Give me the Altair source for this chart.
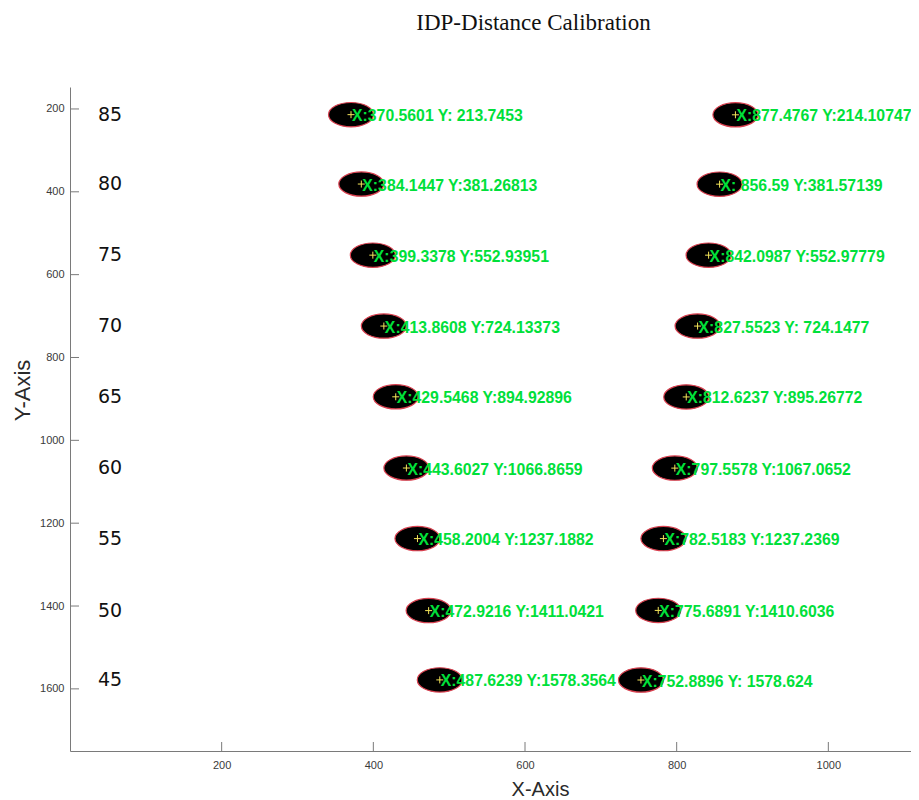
import altair as alt
import pandas as pd

distances = [85, 80, 75, 70, 65, 60, 55, 50, 45]
left_x = [370.5601, 384.1447, 399.3378, 413.8608, 429.5468, 443.6027, 458.2004, 472.9216, 487.6239]
left_y = [213.7453, 381.26813, 552.93951, 724.13373, 894.92896, 1066.8659, 1237.1882, 1411.0421, 1578.3564]
right_x = [877.4767, 856.59, 842.0987, 827.5523, 812.6237, 797.5578, 782.5183, 775.6891, 752.8896]
right_y = [214.10747, 381.57139, 552.97779, 724.1477, 895.26772, 1067.0652, 1237.2369, 1410.6036, 1578.624]
left_labels = [
    "X:370.5601 Y: 213.7453", "X:384.1447 Y:381.26813", "X:399.3378 Y:552.93951",
    "X:413.8608 Y:724.13373", "X:429.5468 Y:894.92896", "X:443.6027 Y:1066.8659",
    "X:458.2004 Y:1237.1882", "X:472.9216 Y:1411.0421", "X:487.6239 Y:1578.3564",
]
right_labels = [
    "X:877.4767 Y:214.10747", "X:  856.59 Y:381.57139", "X:842.0987 Y:552.97779",
    "X:827.5523 Y: 724.1477", "X:812.6237 Y:895.26772", "X:797.5578 Y:1067.0652",
    "X:782.5183 Y:1237.2369", "X:775.6891 Y:1410.6036", "X:752.8896 Y: 1578.624",
]
x_ticks = [200, 400, 600, 800, 1000]
y_ticks = [200, 400, 600, 800, 1000, 1200, 1400, 1600]

pts = pd.DataFrame({
    "x": left_x + right_x,
    "y": left_y + right_y,
    "label": left_labels + right_labels,
})
rows = pd.DataFrame({"y": left_y, "dist": [str(d) for d in distances]})
xt = pd.DataFrame({"x": x_ticks})
yt = pd.DataFrame({"y": y_ticks})

W, H = 841, 664
AXIS_COLOR = "#7a7a7a"
xs = alt.Scale(domain=[0, 1109], nice=False, zero=False)
ys = alt.Scale(domain=[147, 1750], nice=False, zero=False, reverse=True)
xaxis = alt.Axis(values=x_ticks, format="d", ticks=False, grid=False, domainColor=AXIS_COLOR,
                 labelColor="#3a3a3a", labelFont="Liberation Sans", labelFontSize=11,
                 labelPadding=8, title="X-Axis", titleFont="Liberation Sans",
                 titleFontSize=20, titleFontWeight="normal", titleColor="#2a2a2a",
                 titleX=470, titlePadding=9)
yaxis = alt.Axis(values=y_ticks, format="d", ticks=False, grid=False, domainColor=AXIS_COLOR,
                 labelColor="#3a3a3a", labelFont="Liberation Sans", labelFontSize=11,
                 labelPadding=6, title="Y-Axis", titleFont="Liberation Sans",
                 titleFontSize=22, titleFontWeight="normal", titleColor="#2a2a2a",
                 titleY=303, titlePadding=5)
X = alt.X("x:Q", scale=xs, axis=xaxis)
Y = alt.Y("y:Q", scale=ys, axis=yaxis)

ELLIPSE = "M -1 0 A 1 0.54 0 1 1 1 0 A 1 0.54 0 1 1 -1 0 Z"
PLUS = "M -1 0 L 1 0 M 0 -1 L 0 1"

ellipses = alt.Chart(pts).mark_point(
    shape=ELLIPSE, size=2025, filled=True, fill="#000000", stroke="#d8404f",
    strokeWidth=1.2, opacity=1, fillOpacity=1, strokeOpacity=1
).encode(x=X, y=Y)

plus = alt.Chart(pts).mark_point(
    shape=PLUS, size=49, filled=False, stroke="#f2e45a", strokeWidth=1, opacity=1
).encode(x=X, y=Y)

texts = alt.Chart(pts).mark_text(
    align="left", baseline="middle", dx=1, dy=1.5, font="Liberation Sans",
    fontSize=15.8, fontWeight="bold", color="#00e03a"
).encode(x=X, y=Y, text="label:N")

dist = alt.Chart(rows).mark_text(
    align="center", baseline="middle", font="DejaVu Sans", fontSize=19,
    fontWeight="normal", color="#111111"
).encode(x=alt.value(40), y=Y, text="dist:N")

xtick = alt.Chart(xt).mark_rule(color=AXIS_COLOR, strokeWidth=1).encode(
    x=X, y=alt.value(H), y2=alt.value(H - 9))
ytick = alt.Chart(yt).mark_rule(color=AXIS_COLOR, strokeWidth=1).encode(
    y=Y, x=alt.value(0), x2=alt.value(9))

chart = alt.layer(ellipses, plus, texts, dist, xtick, ytick).properties(
    width=W, height=H,
    background="white",
    title=alt.TitleParams("IDP-Distance Calibration", font="Liberation Serif",
                          fontSize=23, fontWeight="normal", color="#111111",
                          anchor="middle", dx=43, offset=34, baseline="alphabetic"),
    autosize=alt.AutoSizeParams(type="none"),
    padding={"left": 62, "top": 79, "right": 0, "bottom": 49},
).configure_view(stroke="transparent", strokeWidth=0)

chart.save("out.html", embed_options={"renderer": "svg", "actions": False})
